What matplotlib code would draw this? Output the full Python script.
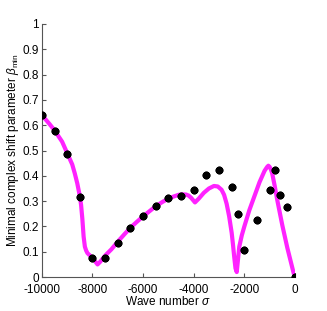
import matplotlib
matplotlib.use("Agg")
import matplotlib.pyplot as plt

# ===== Data =====
# computed curve (magenta)
curve_sigma = [-10000, -9700, -9500, -9200, -9000, -8800, -8700, -8600, -8500, -8450, -8400,
               -8350, -8300, -8250, -8200, -8100, -8000, -7900, -7800, -7700, -7500, -7250,
               -7000, -6750, -6500, -6250, -6000, -5750, -5500, -5250, -5000, -4800, -4600,
               -4450, -4300, -4200, -4100, -3950, -3800, -3600, -3400, -3200, -3050, -2900,
               -2800, -2700, -2600, -2500, -2450, -2400, -2350, -2300, -2250, -2200, -2100,
               -2000, -1800, -1600, -1400, -1200, -1100, -1050, -1000, -950, -900, -800,
               -700, -600, -500, -400, -300, -200, -100, -50, 0]
curve_beta = [0.64, 0.605, 0.58, 0.535, 0.49, 0.445, 0.41, 0.37, 0.32, 0.285, 0.23,
              0.16, 0.12, 0.105, 0.095, 0.085, 0.075, 0.063, 0.05, 0.06, 0.085, 0.11,
              0.14, 0.168, 0.195, 0.218, 0.24, 0.26, 0.28, 0.296, 0.31, 0.318, 0.325,
              0.327, 0.326, 0.322, 0.313, 0.295, 0.31, 0.333, 0.35, 0.36, 0.358, 0.345,
              0.325, 0.29, 0.24, 0.175, 0.13, 0.08, 0.035, 0.02, 0.07, 0.12, 0.165,
              0.2, 0.265, 0.32, 0.375, 0.42, 0.435, 0.44, 0.435, 0.425, 0.41, 0.36,
              0.305, 0.255, 0.205, 0.16, 0.115, 0.075, 0.035, 0.015, 0.0]

# measured points (black)
pts_sigma = [-10000, -9500, -9000, -8500, -8000, -7500, -7000, -6500, -6000, -5500, -5000,
             -4500, -4000, -3500, -3000, -2500, -2250, -2000, -1500, -1000, -800, -600,
             -300, 0]
pts_beta = [0.64, 0.578, 0.485, 0.316, 0.075, 0.075, 0.135, 0.192, 0.241, 0.282, 0.311,
            0.322, 0.343, 0.404, 0.422, 0.354, 0.25, 0.108, 0.227, 0.344, 0.422, 0.325,
            0.275, 0.0]

xticks = [-10000, -8000, -6000, -4000, -2000, 0]
yticks = [0, 0.1, 0.2, 0.3, 0.4, 0.5, 0.6, 0.7, 0.8, 0.9, 1]

# ===== Plot =====
plt.rcParams["font.family"] = ["Liberation Sans", "DejaVu Sans"]
plt.rcParams["mathtext.fontset"] = "custom"
plt.rcParams["mathtext.rm"] = "Liberation Sans"
plt.rcParams["mathtext.it"] = "Liberation Sans:italic"

fig = plt.figure(figsize=(3.27, 3.11), dpi=100)
ax = fig.add_axes([0.128, 0.109, 0.774, 0.814])

ax.plot(curve_sigma, curve_beta, color="#ff22ff", linewidth=3.0, solid_joinstyle="round", zorder=2)
ax.plot(pts_sigma, pts_beta, linestyle="none", marker=(8, 2, 0), markersize=5.5,
        markeredgewidth=1.8, color="black", zorder=3)
ax.plot(pts_sigma, pts_beta, linestyle="none", marker="o", markersize=3.8,
        color="black", zorder=3)

ax.set_xlim(-10000, 0)
ax.set_ylim(0, 1)
ax.set_xticks(xticks)
ax.set_xticklabels([str(t) for t in xticks])
ax.set_yticks(yticks)
ax.set_yticklabels(["0", "0.1", "0.2", "0.3", "0.4", "0.5", "0.6", "0.7", "0.8", "0.9", "1"])

ax.spines["top"].set_visible(False)
ax.spines["right"].set_visible(False)
for s in ("left", "bottom"):
    ax.spines[s].set_color("#555555")
    ax.spines[s].set_linewidth(0.8)
ax.tick_params(direction="in", length=3, width=0.8, color="#555555", labelsize=8.5)
ax.tick_params(axis="x", pad=5)
ax.tick_params(axis="y", pad=2)

ax.set_xlabel(r"Wave number $\sigma$", fontsize=8.5, labelpad=-1)
ax.set_ylabel(r"Minimal complex shift parameter $\beta_{\rm min}$", fontsize=8.5, labelpad=1)

fig.savefig("out.png", dpi=100)
